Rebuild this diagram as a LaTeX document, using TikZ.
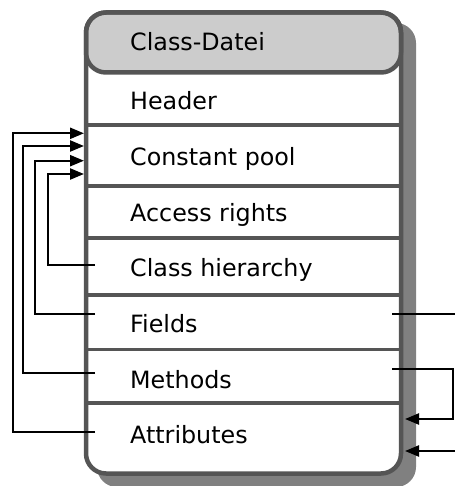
\documentclass[tikz,border=0pt]{standalone}
\usepackage{fontspec}
\setmainfont{DejaVu Sans}
\usetikzlibrary{arrows.meta}

\definecolor{framegray}{HTML}{555555}
\definecolor{headgray}{HTML}{CCCCCC}
\definecolor{shadowgray}{HTML}{808080}

\tikzset{
  rowtext/.style={anchor=base west,inner sep=0pt,font=\fontsize{23.8}{28}\selectfont},
  frame/.style={draw=framegray,line width=4.5pt,rounded corners=20pt},
  sep/.style={draw=framegray,line width=3.5pt},
  link/.style={line width=2.3pt},
  linkarrow/.style={link,-{Triangle[length=14pt,width=11pt]}},
}

\begin{document}
\begin{tikzpicture}[x=1pt,y=-1pt,line join=miter]
\useasboundingbox (0,0) rectangle (454,486);
% shadow and box
\fill[shadowgray,rounded corners=20pt] (97,23) rectangle (416,487);
\fill[white,rounded corners=20pt] (86,12.5) rectangle (401,473.5);
\foreach \y in {125,186,238,295,349.5,403}
  \draw[sep] (88,\y) -- (399,\y);
\filldraw[frame,fill=headgray] (86,12.5) rectangle (401,72.5);
\draw[frame] (86,12.5) rectangle (401,473.5);

% rows
\node[rowtext] (cls)  at (130,51)    {Class-Datei};
\node[rowtext] (hdr)  at (130,109.7) {Header};
\node[rowtext] (pool) at (130,165.4) {Constant pool};
\node[rowtext] (acc)  at (130,221.1) {Access rights};
\node[rowtext] (hier) at (130,276.8) {Class hierarchy};
\node[rowtext] (fld)  at (130,332.5) {Fields};
\node[rowtext] (meth) at (130,388.2) {Methods};
\node[rowtext] (attr) at (130,443.9) {Attributes};

% connector ends
\coordinate (pin1) at (84,133.3);
\coordinate (pin2) at (84,146);
\coordinate (pin3) at (84,160.7);
\coordinate (pin4) at (84,174);
\coordinate (hierL) at (95,265);
\coordinate (fldL)  at (95,314);
\coordinate (methL) at (95,373);
\coordinate (attrL) at (95,432);
\coordinate (fldR)  at (392,314);
\coordinate (methR) at (392,369);
\coordinate (fldOut) at (455,314);
\coordinate (in1) at (405,419);
\coordinate (in2) at (405,451);
\coordinate (in2src) at (455,451);

% references into the constant pool
\draw[linkarrow] (attrL) -- (13,432) |- (pin1);
\draw[linkarrow] (methL) -- (23.3,373) |- (pin2);
\draw[linkarrow] (fldL) -- (35,314) |- (pin3);
\draw[linkarrow] (hierL) -- (48.3,265) |- (pin4);

% right side
\draw[link] (fldR) -- (fldOut);
\draw[linkarrow] (methR) -- (453,369) |- (in1);
\draw[linkarrow] (in2src) -- (in2);
\end{tikzpicture}
\end{document}
